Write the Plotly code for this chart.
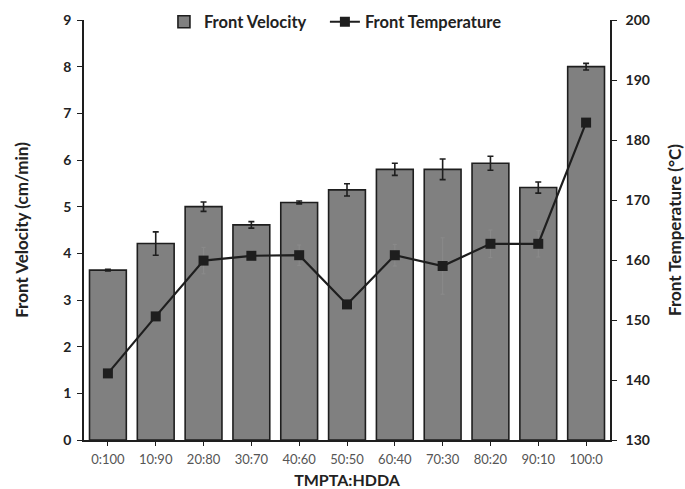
import plotly.graph_objects as go

# Composition ratios (TMPTA:HDDA)
ratios = ["0:100", "10:90", "20:80", "30:70", "40:60", "50:50",
          "60:40", "70:30", "80:20", "90:10", "100:0"]

# Front velocity (cm/min) and its standard deviation
velocity = [3.64, 4.21, 5.00, 4.61, 5.09, 5.36, 5.80, 5.80, 5.93, 5.41, 8.00]
velocity_err = [0.02, 0.25, 0.10, 0.07, 0.03, 0.13, 0.13, 0.22, 0.15, 0.12, 0.07]

# Front temperature (°C) and its standard deviation
temperature = [141.1, 150.6, 159.9, 160.7, 160.8, 152.6, 160.8, 159.0, 162.7, 162.7, 182.9]
temperature_err = [0.0, 0.0, 2.2, 0.8, 1.7, 0.0, 1.8, 4.7, 2.3, 2.2, 0.0]

FONT = "Lato"
INK = "#1e1e1e"

fig = go.Figure()

fig.add_trace(go.Bar(
    x=ratios, y=velocity, name="Front Velocity",
    marker=dict(color="#808080", line=dict(color=INK, width=1.6)),
    error_y=dict(type="data", array=velocity_err, color=INK,
                 thickness=1.6, width=3),
    yaxis="y", legend="legend",
))

fig.add_trace(go.Scatter(
    x=ratios, y=temperature, name="Front Temperature",
    mode="lines+markers",
    line=dict(color=INK, width=2.2),
    marker=dict(symbol="square", size=10, color=INK),
    error_y=dict(type="data", array=temperature_err, color="#8a8a8a",
                 thickness=1, width=2),
    yaxis="y2", legend="legend2",
))

tick_font = dict(family=FONT, size=14, color="#222222", weight="bold")
y_title_font = dict(family=FONT, size=17, color="#222222", weight="bold")
x_title_font = dict(family=FONT, size=16, color="#222222", weight="bold")
legend_font = dict(family=FONT, size=16.5, color="#222222", weight="bold")

# Plot area spans 420 px of the 440 px inside the margins; the legend sits
# on the top edge of the plot area.
TOP = 420 / 440
LEGEND_Y = (440 - 22) / 440

fig.update_layout(
    width=685, height=489,
    margin=dict(l=84, r=75, t=0, b=49, autoexpand=False),
    paper_bgcolor="white", plot_bgcolor="white",
    bargap=0.23,
    showlegend=True,
    legend=dict(x=0.152, xanchor="left", y=LEGEND_Y, yanchor="middle",
                font=legend_font, bgcolor="rgba(0,0,0,0)", itemwidth=30),
    legend2=dict(x=0.458, xanchor="left", y=LEGEND_Y, yanchor="middle",
                 font=legend_font, bgcolor="rgba(0,0,0,0)", itemwidth=30),
    xaxis=dict(
        range=[-0.5, 10.5],
        showline=True, linecolor=INK, linewidth=1.6,
        ticks="outside", ticklen=4, tickcolor=INK,
        tickfont=dict(family=FONT, size=13, color="#555555"),
        ticklabelstandoff=3,
        title=dict(text="TMPTA:HDDA", font=x_title_font, standoff=8),
        showgrid=False, zeroline=False,
    ),
    yaxis=dict(
        domain=[0, TOP],
        range=[0, 9], dtick=1,
        showline=True, linecolor=INK, linewidth=1.6,
        ticks="outside", ticklen=5, tickcolor=INK,
        tickfont=tick_font, ticklabelstandoff=3,
        title=dict(text="Front Velocity (cm/min)", font=y_title_font, standoff=30),
        showgrid=False, zeroline=False,
    ),
    yaxis2=dict(
        range=[130, 200], dtick=10,
        overlaying="y", side="right",
        showline=True, linecolor=INK, linewidth=1.6,
        ticks="outside", ticklen=5, tickcolor=INK,
        tickfont=tick_font, ticklabelstandoff=6,
        title=dict(text="Front Temperature (°C)", font=y_title_font, standoff=24),
        showgrid=False, zeroline=False,
    ),
)

fig.write_html("out.html")
